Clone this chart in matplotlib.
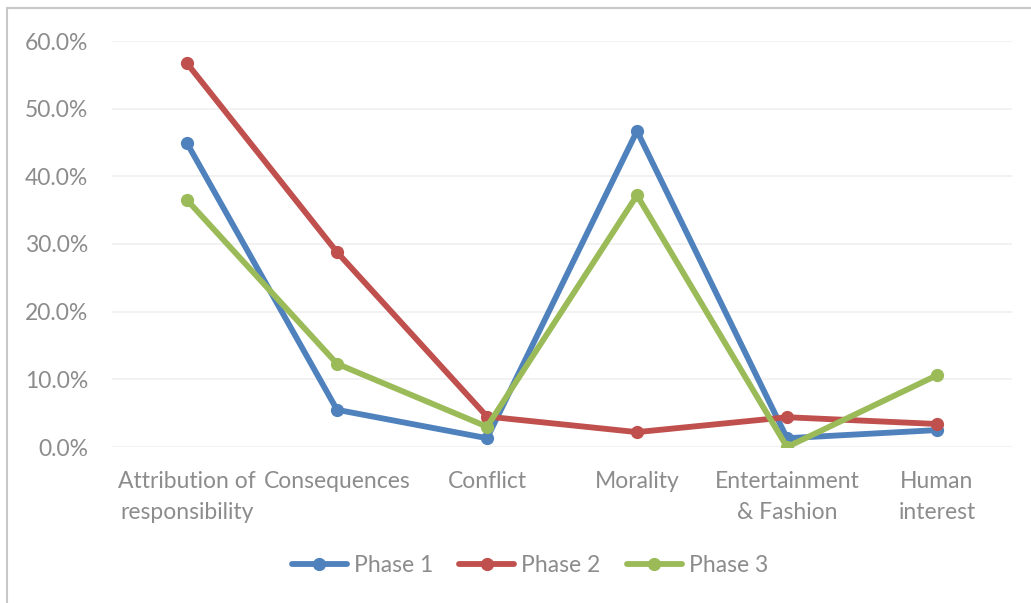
import numpy as np
import matplotlib.pyplot as plt
from matplotlib.lines import Line2D
from matplotlib.ticker import FuncFormatter

# =====================================================
# DATA
# =====================================================

categories = [
    "Attribution of\nresponsibility",
    "Consequences",
    "Conflict",
    "Morality",
    "Entertainment\n& Fashion",
    "Human\ninterest",
]

phase1 = [0.449, 0.055, 0.013, 0.467, 0.013, 0.025]
phase2 = [0.567, 0.288, 0.045, 0.022, 0.044, 0.034]
phase3 = [0.365, 0.123, 0.030, 0.372, 0.000, 0.106]

series_names = ["Phase 1", "Phase 2", "Phase 3"]
colors = ["#4F81BD", "#C0504D", "#9BBB59"]

yticks = [0.0, 0.1, 0.2, 0.3, 0.4, 0.5, 0.6]

# =====================================================
# FIGURE
# =====================================================

plt.rcParams["font.family"] = ["Lato", "DejaVu Sans"]
text_color = "#8C8C8C"
FS = 16.5

fig = plt.figure(figsize=(10.31, 6.03), dpi=100)

# chart border (left + top only visible)
fig.patches.append(plt.Rectangle(
    (7 / 1031, -0.05), 1.1, (603 - 8) / 603 + 0.05,
    transform=fig.transFigure, fill=False,
    edgecolor="#C8C8C8", linewidth=1.5
))

ax = fig.add_axes([112 / 1031, (603 - 447) / 603, 900 / 1031, 406 / 603])

x = np.arange(len(categories))

for vals, name, col in zip([phase1, phase2, phase3], series_names, colors):
    ax.plot(
        x, vals,
        color=col,
        linewidth=4.2,
        marker="o",
        markersize=8.5,
        solid_capstyle="round",
        label=name
    )

ax.set_xlim(-0.5, len(categories) - 0.5)
ax.set_ylim(0, 0.6)

ax.set_yticks(yticks)
ax.yaxis.set_major_formatter(FuncFormatter(lambda v, p: f"{v * 100:.1f}%"))

ax.set_xticks(x)
ax.set_xticklabels(categories, linespacing=1.62)

ax.grid(axis="y", color="#F0F0F0", linewidth=1.2)
ax.set_axisbelow(True)

for s in ax.spines.values():
    s.set_visible(False)

ax.tick_params(axis="both", length=0, labelsize=FS, labelcolor=text_color)
ax.tick_params(axis="y", pad=17)
ax.tick_params(axis="x", pad=17)

for lbl in ax.get_xticklabels():
    lbl.set_verticalalignment("top")

# =====================================================
# LEGEND
# =====================================================

handles = [
    Line2D([0], [0], color=c, linewidth=4.2, marker="o", markersize=8.5,
           solid_capstyle="round")
    for c in colors
]

fig.legend(
    handles, series_names,
    loc="center",
    bbox_to_anchor=(530 / 1031, 1 - 566 / 603),
    ncol=3,
    frameon=False,
    fontsize=FS,
    labelcolor=text_color,
    handlelength=2.4,
    handletextpad=0.3,
    columnspacing=1.15
)

fig.savefig("out.png", dpi=100)
